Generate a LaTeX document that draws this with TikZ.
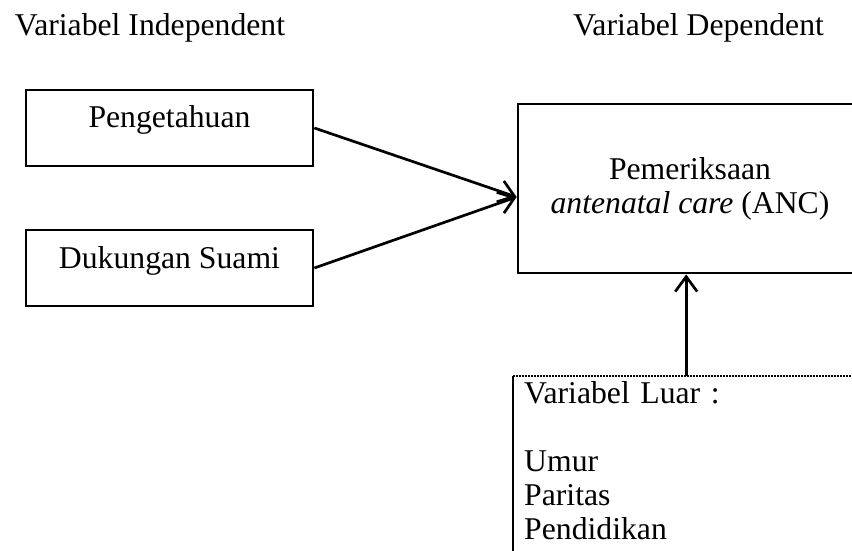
\documentclass[tikz,border=0pt]{standalone}
\usepackage{fontspec}
\setmainfont{Liberation Serif}
\usetikzlibrary{arrows.meta}
\tikzset{
    varbox/.style={draw, line width=2.7pt, inner sep=0pt, minimum width=287pt, text height=38pt, text depth=38pt},
    panah/.style={line width=2.7pt, -{Straight Barb[length=15pt, width=22pt, line width=2.7pt]}}
}
\begin{document}
\begin{tikzpicture}[x=1pt, y=-1pt, font=\fontsize{31.7}{34}\selectfont]
            \useasboundingbox (0, 0) rectangle (852, 551);
            \clip (0, 0) rectangle (852, 551);
            \node[anchor=base] (indep) at (150, 36) {Variabel Independent};
            \node[anchor=base] (dep) at (698.5, 36) {Variabel Dependent};
            \node[varbox] (tahu) at (169.5, 128) {Pengetahuan};
            \node[varbox] (suami) at (169.5, 268) {Dukungan Suami};
            \node[draw, line width=2.7pt, minimum width=344pt, minimum height=169pt, align=center] (anc) at (690, 188.5) {Pemeriksaan\\\textit{antenatal care} (ANC)};
            \coordinate (masuk) at ([yshift=-8.5pt]anc.west);
            \node[anchor=north west, inner xsep=11pt, inner ysep=5.5pt, text width=324pt, align=left] (luar) at (513, 376) {Variabel Luar :\\[34pt]Umur\\Paritas\\Pendidikan};
            \draw[line width=2.7pt, dash pattern=on 2pt off 1pt] (luar.north west) -- (luar.north east);
            \draw[line width=2.7pt] (luar.north west) -- ++(0, 190);
            \draw[panah] (tahu.east) -- (masuk);
            \draw[panah] (suami.east) -- (masuk);
            \draw[panah] (luar.north) -- (luar.north |- anc.south);
        \end{tikzpicture}
\end{document}
